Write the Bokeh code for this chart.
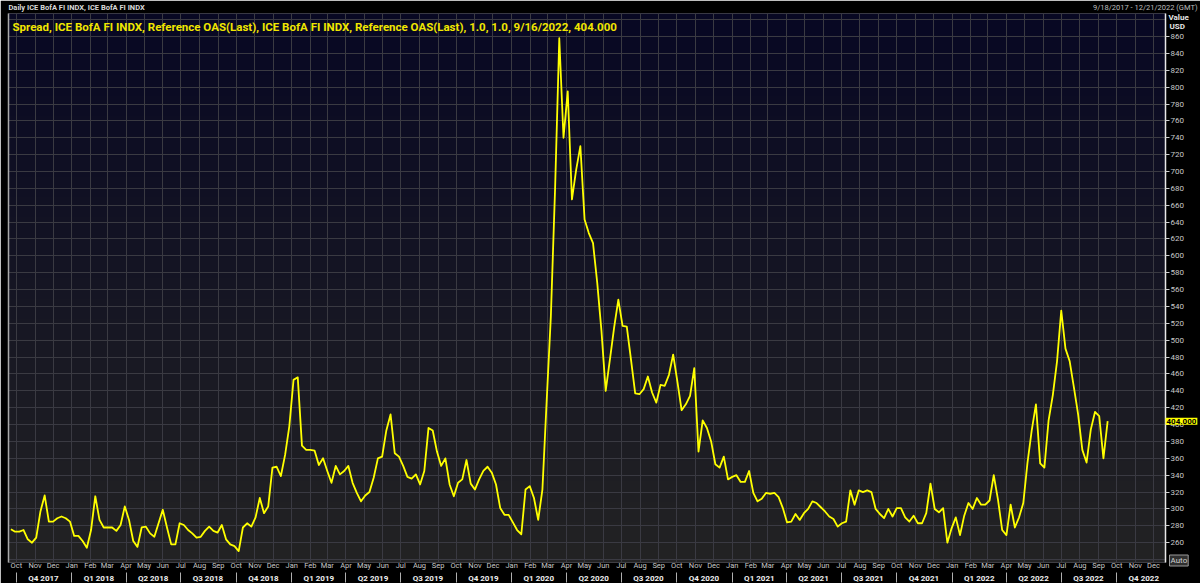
import numpy as np
import pandas as pd
from datetime import datetime
from bokeh.plotting import figure
from bokeh.models import (Range1d, LinearAxis, FixedTicker, DatetimeTickFormatter,
                          CustomJSTickFormatter, Label, Grid, GridBox, Title)
from bokeh.embed import file_html
from bokeh.resources import INLINE

# ---------------- data ----------------
header_text = "Daily ICE BofA FI INDX, ICE BofA FI INDX"
range_text = "9/18/2017 - 12/21/2022 (GMT)"
title_text = ("Spread, ICE BofA FI INDX, Reference OAS(Last), ICE BofA FI INDX, "
              "Reference OAS(Last),  1.0, 1.0, 9/16/2022, 404.000")
unit_label = "Value"
currency_label = "USD"
auto_label = "Auto"
first_week = "2017-09-22"
last_week = "2022-09-16"
view_start = datetime(2017, 9, 18)
view_end = datetime(2022, 12, 21)

# weekly (Friday) readings of the OAS spread
spread = [
    276, 273, 273, 275, 264, 260, 266, 297, 316, 285,
    285, 289, 291, 289, 285, 268, 268, 262, 254, 275,
    315, 287, 278, 278, 278, 274, 281, 303, 287, 262,
    255, 278, 279, 271, 267, 283, 299, 278, 258, 258,
    283, 281, 275, 271, 266, 267, 274, 279, 274, 272,
    281, 264, 258, 256, 250, 278, 283, 279, 290, 313,
    295, 303, 349, 350, 339, 364, 398, 453, 456, 375,
    370, 370, 369, 352, 360, 345, 331, 351, 341, 345,
    351, 331, 319, 309, 316, 320, 337, 360, 362, 393,
    412, 366, 362, 351, 338, 336, 341, 329, 345, 396,
    393, 368, 351, 360, 329, 315, 331, 335, 358, 330,
    323, 335, 345, 350, 343, 329, 301, 293, 293, 284,
    275, 270, 323, 327, 313, 287, 323, 427, 528, 679,
    858, 740, 795, 667, 702, 730, 643, 627, 615, 568,
    511, 440, 477, 515, 548, 517, 516, 477, 437, 436,
    442, 457, 438, 426, 447, 446, 459, 483, 451, 417,
    424, 434, 467, 368, 405, 396, 380, 353, 349, 362,
    335, 338, 340, 332, 332, 345, 319, 309, 312, 319,
    318, 319, 314, 301, 284, 285, 294, 287, 295, 300,
    309, 307, 302, 297, 291, 288, 279, 283, 285, 322,
    305, 322, 320, 322, 320, 300, 294, 289, 300, 291,
    301, 301, 290, 285, 292, 283, 283, 295, 330, 300,
    296, 301, 260, 277, 290, 269, 292, 307, 300, 313,
    305, 305, 310, 340, 311, 275, 269, 305, 278, 290,
    307, 355, 393, 424, 354, 349, 405, 435, 475, 535,
    490, 475, 444, 412, 370, 355, 394, 415, 410, 360,
    404,
]
y_ticks = list(range(260, 861, 20))
grid_y = list(range(240, 881, 20))

# ---------------- derived ----------------
dates = pd.date_range(first_week, last_week, freq="7D")
assert len(dates) == len(spread)


def ms(ts):
    return pd.Timestamp(ts).value / 1e6


month_starts = pd.date_range("2017-10-01", "2022-12-01", freq="MS")
month_ticks = [ms(d) for d in month_starts]
q_starts = pd.date_range("2017-10-01", "2022-10-01", freq="QS")
q_start_ticks = [ms(d) for d in q_starts]
q_mid_ticks = [ms(d + pd.Timedelta(days=45)) for d in q_starts]

W, H = 1200, 583
FL, FT, FW, FH = 8, 13, 1157, 549          # frame placement (px)
Y0, Y1 = 236.5, 887.3                       # value range shown in the frame
X0, X1 = ms(view_start), ms(view_end)

NARROW = "Liberation Sans Narrow, Roboto"
GRID = "#3a3a42"

chart = figure(frame_width=FW, frame_height=FH,
               x_range=Range1d(X0, X1), y_range=Range1d(Y0, Y1),
               x_axis_type=None, y_axis_type=None,
               output_backend="svg", toolbar_location=None,
               min_border_left=FL, min_border_top=FT, min_border_right=W - FL - FW,
               min_border_bottom=0,
               border_fill_color="#000000", background_fill_color="#151522",
               outline_line_color=None)
chart.title = Title(text=header_text, align="left", standoff=1, vertical_align="middle",
                    text_font=NARROW, text_font_size="7.5px", text_font_style="bold",
                    text_color="#d8d8d8")

# vertical gradient background of the plotting area
chart.extra_x_ranges = {"bg": Range1d(0, 1)}
chart.extra_y_ranges = {"bg": Range1d(0, 1)}
N = FH
img = np.empty((N, 1), dtype=np.uint32)
view = img.view(dtype=np.uint8).reshape((N, 1, 4))
top = np.array([8, 8, 36])
bot = np.array([35, 35, 35])
for j in range(N):
    t = j / (N - 1)
    c = bot * (1 - t) + top * t
    view[j, 0, 0:3] = c.astype(np.uint8)
    view[j, 0, 3] = 255
bg = chart.image_rgba(image=[img], x=0, y=0, dw=1, dh=1, x_range_name="bg", y_range_name="bg")
bg.level = "image"

# grids
chart.add_layout(Grid(dimension=0, ticker=FixedTicker(ticks=month_ticks),
                      grid_line_color=GRID, grid_line_width=1))
chart.add_layout(Grid(dimension=1, ticker=FixedTicker(ticks=grid_y),
                      grid_line_color=GRID, grid_line_width=1))

# series
chart.line(x=dates, y=spread, line_color="#ffff00", line_width=1.8, line_join="round")

# right value axis
ry = LinearAxis(ticker=FixedTicker(ticks=y_ticks),
                axis_line_color="#e8e8e8", axis_line_width=1.5,
                major_tick_line_color="#d0d0d0", major_tick_in=0, major_tick_out=4,
                minor_tick_line_color=None,
                major_label_standoff=1, major_label_text_font=NARROW,
                major_label_text_font_size="8px", major_label_text_color="#c8c8c8")
chart.add_layout(ry, "right")

# left frame line
ly = LinearAxis(ticker=FixedTicker(ticks=[]), axis_line_color="#a8a8a8", axis_line_width=1.5,
                major_tick_line_color=None, minor_tick_line_color=None,
                major_tick_out=0, minor_tick_out=0,
                major_label_text_font_size="0px")
chart.add_layout(ly, "left")

# month axis
mx = LinearAxis(ticker=FixedTicker(ticks=month_ticks),
                formatter=DatetimeTickFormatter(days="%b", months="%b", years="%b"),
                axis_line_color=None, major_tick_line_color=None, minor_tick_line_color=None,
                major_tick_out=0, minor_tick_out=0,
                major_label_standoff=-2, major_label_text_font=NARROW,
                major_label_text_font_size="7.5px", major_label_text_color="#c8c8c8")
chart.add_layout(mx, "below")

# quarter axis
qx = LinearAxis(ticker=FixedTicker(ticks=q_mid_ticks, minor_ticks=q_start_ticks),
                formatter=CustomJSTickFormatter(code="""
                    const d = new Date(tick);
                    return "Q" + (Math.floor(d.getUTCMonth() / 3) + 1) + " " + d.getUTCFullYear();
                """),
                axis_line_color=None, major_tick_line_color=None,
                major_tick_out=0,
                minor_tick_line_color="#b0b0b0", minor_tick_in=0, minor_tick_out=10,
                major_label_standoff=-9, major_label_text_font=NARROW,
                major_label_text_font_style="bold",
                major_label_text_font_size="8px", major_label_text_color="#f0f0f0")
chart.add_layout(qx, "below")

# ---------------- transparent overlay for the texts around the frame ----------------
# (its frame is aligned with the chart's frame: left/top edges coincide)
OW, OH = W - FL, H - FT
k_y = FH / (Y1 - Y0)          # px per value unit
k_x = FW / (X1 - X0)          # px per ms
overlay = figure(frame_width=OW, frame_height=OH,
                 x_range=Range1d(X0, X1 + (W - FL - FW) / k_x),
                 y_range=Range1d(Y0 - (H - FT - FH) / k_y, Y1),
                 x_axis_type=None, y_axis_type=None,
                 output_backend="svg", toolbar_location=None,
                 min_border_left=FL, min_border_top=FT, min_border_right=0, min_border_bottom=0,
                 outline_line_color=None,
                 background_fill_alpha=0, border_fill_alpha=0)
overlay.title = Title(text=range_text, align="right", offset=3, standoff=1,
                      vertical_align="middle",
                      text_font=NARROW, text_font_size="7.5px", text_font_style="normal",
                      text_color="#bdbdbd")


def lab(text, cx, cy, **kw):
    """Label at canvas position (cx, cy) in px from the page's top-left corner."""
    overlay.add_layout(Label(x=cx - FL, y=H - cy, x_units="screen", y_units="screen",
                             text=text, **kw))


lab(title_text, 12, 26, text_font=NARROW, text_font_size="11.5px", text_font_style="bold",
    text_color="#f0e600", text_baseline="alphabetic")
lab(unit_label, 1168, 17, text_font=NARROW, text_font_size="8px", text_font_style="bold",
    text_color="#e6e6e6", text_baseline="middle")
lab(currency_label, 1169, 26, text_font=NARROW, text_font_size="8px", text_font_style="bold",
    text_color="#e6e6e6", text_baseline="middle")
lab(auto_label, 1169, 560, text_font=NARROW, text_font_size="8px",
    text_color="#d0d0d0", text_baseline="middle",
    background_fill_color="#303030", border_line_color="#9a9a9a", padding=1)
overlay.add_layout(Label(x=X1, y=spread[-1], text=f"{spread[-1]:.3f}",
                         text_font=NARROW, text_font_size="8px", text_font_style="bold",
                         text_color="#000000", text_baseline="middle", text_align="left",
                         background_fill_color="#ffff00", padding=1))

p = GridBox(children=[(chart, 0, 0), (overlay, 0, 0)])

open("out.html", "w").write(file_html(p, INLINE))
